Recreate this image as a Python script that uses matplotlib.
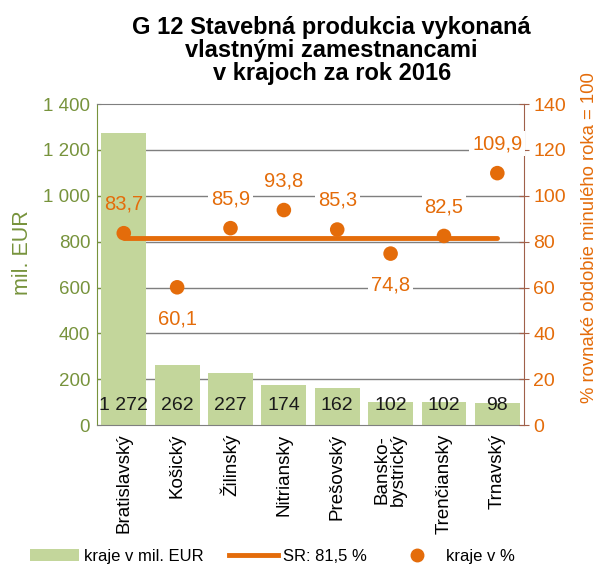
import matplotlib
matplotlib.use("Agg")
import matplotlib.pyplot as plt
from matplotlib.lines import Line2D
from matplotlib.patches import Patch
import numpy as np

plt.rcParams['font.family'] = ['Liberation Sans', 'DejaVu Sans']

categories = ["Bratislavský", "Košický", "Žilinský", "Nitriansky", "Prešovský",
              "Bansko-\nbystrický", "Trenčiansky", "Trnavský"]
values_eur = [1272, 262, 227, 174, 162, 102, 102, 98]
bar_labels = ["1 272", "262", "227", "174", "162", "102", "102", "98"]
values_pct = [83.7, 60.1, 85.9, 93.8, 85.3, 74.8, 82.5, 109.9]
pct_labels = ["83,7", "60,1", "85,9", "93,8", "85,3", "74,8", "82,5", "109,9"]
label_above = [True, False, True, True, True, False, True, True]
sr_value = 81.5
left_ticks = [0, 200, 400, 600, 800, 1000, 1200, 1400]
left_ticklabels = ["0", "200", "400", "600", "800", "1 000", "1 200", "1 400"]
right_ticks = [0, 20, 40, 60, 80, 100, 120, 140]

GREEN_BAR = "#C3D69B"
GREEN_TXT = "#77933C"
ORANGE = "#E46C0A"
BROWN = "#A0604A"
GRID = "#7F7F7F"

fig = plt.figure(figsize=(6.03, 5.66), dpi=100)
ax = fig.add_axes([0.161, 0.249, 0.708, 0.567])
ax2 = ax.twinx()

x = np.arange(len(categories))
ax.bar(x, values_eur, width=0.84, color=GREEN_BAR, zorder=2)
ax.set_ylim(0, 1400)
ax.set_xlim(-0.5, len(categories) - 0.5)
ax.set_yticks(left_ticks)
ax.set_yticklabels(left_ticklabels, color=GREEN_TXT, fontsize=13.5)
for t in left_ticks[1:-1]:
    ax.axhline(t, color=GRID, lw=1, zorder=1)
ax.set_xticks(x)
ax.set_xticklabels(categories, rotation=90, fontsize=13.5, linespacing=0.95)
ax.tick_params(axis='x', length=0, pad=6)
ax.tick_params(axis='y', direction='in', length=3, color=GREEN_TXT, pad=5)
ax.spines['left'].set_color(GREEN_TXT)
ax.spines['top'].set_color(GRID)
ax.spines['bottom'].set_color(GRID)
ax.spines['right'].set_visible(False)

for xi, lab in zip(x, bar_labels):
    ax.text(xi, 85, lab, ha='center', va='center', fontsize=14, color='#1a1a1a', zorder=3)

ax2.set_ylim(0, 140)
ax2.set_yticks(right_ticks)
ax2.set_yticklabels([str(t) for t in right_ticks], color=ORANGE, fontsize=14)
ax2.tick_params(axis='y', direction='inout', length=7, color=BROWN, pad=3)
ax2.spines['right'].set_color(BROWN)
for s in ['left', 'top', 'bottom']:
    ax2.spines[s].set_visible(False)

fig.text(0.037, 0.553, "mil. EUR", color=GREEN_TXT, fontsize=15.5, rotation=90,
         ha='center', va='center')
fig.text(0.978, 0.581, "% rovnaké obdobie minulého roka = 100", color=ORANGE,
         fontsize=13.3, rotation=90, ha='center', va='center')

ax2.plot([x[0], x[-1]], [sr_value, sr_value], color=ORANGE, lw=3.5,
         solid_capstyle='round', zorder=3)
ax2.scatter(x, values_pct, s=110, color=ORANGE, zorder=4, edgecolors='none')

for i, (xi, v, lab, up) in enumerate(zip(x, values_pct, pct_labels, label_above)):
    y = v + 12.8 if up else v - 13.8
    bbox = None if i == 0 else dict(facecolor='white', edgecolor='none', pad=2)
    ax2.text(xi, y, lab, ha='center', va='center', fontsize=14.5, color=ORANGE,
             bbox=bbox, zorder=5)

fig.text(0.55, 0.91, "G 12 Stavebná produkcia vykonaná\nvlastnými zamestnancami\nv krajoch za rok 2016",
         ha='center', va='center', fontsize=17, fontweight='bold', linespacing=1.0)

handles = [Patch(facecolor=GREEN_BAR, edgecolor='none'),
           Line2D([0], [0], color=ORANGE, lw=3.5),
           Line2D([0], [0], color=ORANGE, marker='o', lw=0, markersize=9)]
fig.legend(handles, ["kraje v mil. EUR", "SR: 81,5 %", "kraje v %"],
           loc='center', bbox_to_anchor=(0.452, 0.017), ncol=3, frameon=False,
           fontsize=12, columnspacing=1.56, handlelength=2.9, handletextpad=0.3,
           borderaxespad=0, borderpad=0)

fig.savefig("out.png", dpi=100)
